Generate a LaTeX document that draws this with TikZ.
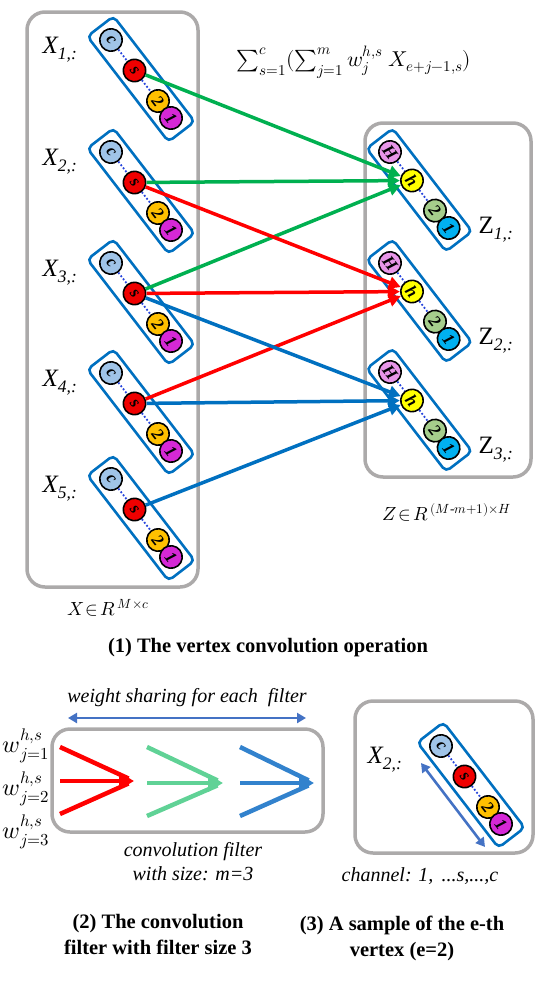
\documentclass[tikz,border=0pt]{standalone}
\usepackage{fontspec}
\usepackage{unicode-math}
\setmainfont{Liberation Serif}
\setmathfont{Latin Modern Math}
\usepackage{tikz}
\usetikzlibrary{arrows.meta, positioning, calc}
\definecolor{boxgray}{RGB}{172,170,170}
\definecolor{barblue}{RGB}{0,112,192}
\definecolor{dotblue}{RGB}{40,70,220}
\definecolor{cblue}{RGB}{160,196,232}
\definecolor{sred}{RGB}{240,0,0}
\definecolor{tgold}{RGB}{255,192,0}
\definecolor{omag}{RGB}{214,40,214}
\definecolor{hpink}{RGB}{232,150,232}
\definecolor{hyellow}{RGB}{255,255,0}
\definecolor{zgreen}{RGB}{166,206,140}
\definecolor{zcyan}{RGB}{0,176,240}
\definecolor{garrow}{RGB}{0,176,80}
\definecolor{rarrow}{RGB}{255,0,0}
\definecolor{barrow}{RGB}{0,112,192}
\definecolor{fgreen}{RGB}{96,210,150}
\definecolor{fblue}{RGB}{50,130,205}
\definecolor{wblue}{RGB}{68,114,196}
\tikzset{%
    boxsty/.style={
        draw=boxgray,
        line width=3.5pt,
        rounded corners=18pt,
    },
    barsty/.style={
        draw=barblue,
        line width=2.6pt,
        rounded corners=5pt,
        inner sep=0pt,
        minimum width=133pt,
        minimum height=33pt,
        rotate=-52.4,
    },
    cirsty/.style={
        circle,
        draw=black,
        line width=1.6pt,
        inner sep=0pt,
        minimum size=22.5pt,
        rotate=-52.4,
        font=\fontsize{17}{17}\selectfont\bfseries\itshape,
    },
    dotsty/.style={
        draw=dotblue,
        line width=1.8pt,
        dotted,
    },
    labsty/.style={
        inner sep=0pt,
        font=\fontsize{25}{25}\selectfont\itshape,
    },
    mathsty/.style={
        inner sep=0pt,
        font=\fontsize{19}{19}\selectfont,
    },
    txtsty/.style={
        align=center,
        inner sep=0pt,
        font=\fontsize{20}{24}\selectfont\itshape,
    },
    capsty/.style={
        align=center,
        inner sep=0pt,
        font=\fontsize{20.5}{26}\selectfont\bfseries,
    },
    conn/.style={
        line width=3.5pt,
        -{Triangle[length=12pt,width=12pt]},
    },
    filt/.style={
        line width=4.5pt,
    },
    filttip/.style={
        filt,
        -{Triangle[length=15pt,width=17pt]},
    },
    sharesty/.style={
        draw=wblue,
        line width=2.6pt,
        {Triangle[length=9pt,width=10pt]}-{Triangle[length=9pt,width=10pt]},
    },
}

\begin{document}
\begin{tikzpicture}[x=1pt,y=-1pt]
\useasboundingbox (0,0) rectangle (539,994);

% outer boxes
\draw [boxsty] (27,12) rectangle (198,587);
\draw [boxsty] (365,123) rectangle (531,477);
\draw [boxsty] (52,729) rectangle (323,832);
\draw [boxsty] (355,701) rectangle (533,853);

% input vertices X_{e,:}
\foreach \e/\y in {1/40,2/152,3/263,4/373,5/479}{
    \node (x\e c) [cirsty,fill=cblue] at (111,\y) {c};
    \node (x\e s) [cirsty,fill=sred] at ([shift={(23.5,30.5)}]x\e c) {s};
    \node (x\e two) [cirsty,fill=tgold] at ([shift={(47,61)}]x\e c) {2};
    \node (x\e one) [cirsty,fill=omag] at ([shift={(60,78)}]x\e c) {1};
    \node (x\e bar) [barsty] at ([shift={(30,39)}]x\e c) {};
    \draw [dotsty] (x\e c) -- (x\e s) (x\e s) -- (x\e two);
    \node (x\e lab) [labsty] at (60,\y+10) {X\textsubscript{\e,:}};
}

% output vertices Z_{h,:}
\foreach \h/\y in {1/152,2/263,3/372}{
    \node (z\h big) [cirsty,fill=hpink] at (390,\y) {H};
    \node (z\h h) [cirsty,fill=hyellow] at ([shift={(22,28.5)}]z\h big) {h};
    \node (z\h two) [cirsty,fill=zgreen] at ([shift={(45,58.6)}]z\h big) {2};
    \node (z\h one) [cirsty,fill=zcyan] at ([shift={(58.6,76)}]z\h big) {1};
    \node (z\h bar) [barsty,minimum width=130pt] at ([shift={(29.3,38)}]z\h big) {};
    \draw [dotsty] (z\h big) -- (z\h h) (z\h h) -- (z\h two);
    \node (z\h lab) [labsty,font=\fontsize{25}{25}\selectfont] at (496,\y+78) {Z\textsubscript{\itshape\h,:}};
}

% sample vertex
\node (vc) [cirsty,fill=cblue] at (441,746) {c};
\node (vs) [cirsty,fill=sred] at ([shift={(23.5,30.5)}]vc) {s};
\node (vtwo) [cirsty,fill=tgold] at ([shift={(47,61)}]vc) {2};
\node (vone) [cirsty,fill=omag] at ([shift={(60,78)}]vc) {1};
\node (vbar) [barsty] at ([shift={(30,39)}]vc) {};
\draw [dotsty] (vc) -- (vs) (vs) -- (vtwo);
\node (vlab) [labsty] at (385,760) {X\textsubscript{2,:}};
\coordinate (ch1) at (421,763);
\coordinate (ch2) at (485,847);
\draw [sharesty] (ch1) -- (ch2);

% convolution connectors
\draw [conn,garrow] (x1s) -- (z1h);
\draw [conn,garrow] (x2s) -- (z1h);
\draw [conn,garrow] (x3s) -- (z1h);
\draw [conn,rarrow] (x2s) -- (z2h);
\draw [conn,rarrow] (x3s) -- (z2h);
\draw [conn,rarrow] (x4s) -- (z2h);
\draw [conn,barrow] (x3s) -- (z3h);
\draw [conn,barrow] (x4s) -- (z3h);
\draw [conn,barrow] (x5s) -- (z3h);

% formulas and captions
\node (sum) [mathsty,font=\fontsize{21.5}{21.5}\selectfont] at (354,62)
    {$\sum_{s=1}^{c}(\sum_{j=1}^{m}w_j^{h,s}\;X_{e+j-1,s})$};
\node (xdim) [mathsty] at (108,608) {$X\!\in\! R^{\,M\times c}$};
\node (zdim) [mathsty] at (447,512) {$Z\!\in\! R^{\,(M\textrm{-}m+1)\times H}$};
\node (cap1) [capsty] at (268,648) {(1) The vertex convolution operation};

% convolution filter
\node (share) [txtsty] at (187,698) {weight sharing for each \ filter};
\coordinate (sh1) at (68,718);
\coordinate (sh2) at (306,718);
\draw [sharesty] (sh1) -- (sh2);

\node (w1) [mathsty,font=\fontsize{24}{24}\selectfont] at (26,746) {$w_{j=1}^{h,s}$};
\node (w2) [mathsty,font=\fontsize{24}{24}\selectfont] at (26,789) {$w_{j=2}^{h,s}$};
\node (w3) [mathsty,font=\fontsize{24}{24}\selectfont] at (26,832) {$w_{j=3}^{h,s}$};

\coordinate (ra) at (60,747);
\coordinate (rb) at (60,781);
\coordinate (rc) at (60,814);
\coordinate (rtip) at (134,781);
\coordinate (ga) at (147,747);
\coordinate (gb) at (147,783);
\coordinate (gc) at (147,816);
\coordinate (gtip) at (223,783);
\coordinate (ba) at (240,747);
\coordinate (bb) at (240,783);
\coordinate (bc) at (240,816);
\coordinate (btip) at (314,783);
\draw [filt,red,shorten >=6pt] (ra) -- (rtip);
\draw [filt,red,shorten >=6pt] (rc) -- (rtip);
\draw [filttip,red] (rb) -- (rtip);
\draw [filt,fgreen,shorten >=6pt] (ga) -- (gtip);
\draw [filt,fgreen,shorten >=6pt] (gc) -- (gtip);
\draw [filttip,fgreen] (gb) -- (gtip);
\draw [filt,fblue,shorten >=6pt] (ba) -- (btip);
\draw [filt,fblue,shorten >=6pt] (bc) -- (btip);
\draw [filttip,fblue] (bb) -- (btip);

\node (fsize) [txtsty] at (193,862) {convolution filter\\with size: m=3};
\node (chan) [txtsty] at (420,876) {channel: 1, \,...s,...,c};
\node (cap2) [capsty] at (158,934) {(2) The convolution\\filter with filter size 3};
\node (cap3) [capsty] at (402,938) {(3) A sample of the e-th\\vertex (e=2)};

\end{tikzpicture}
\end{document}
